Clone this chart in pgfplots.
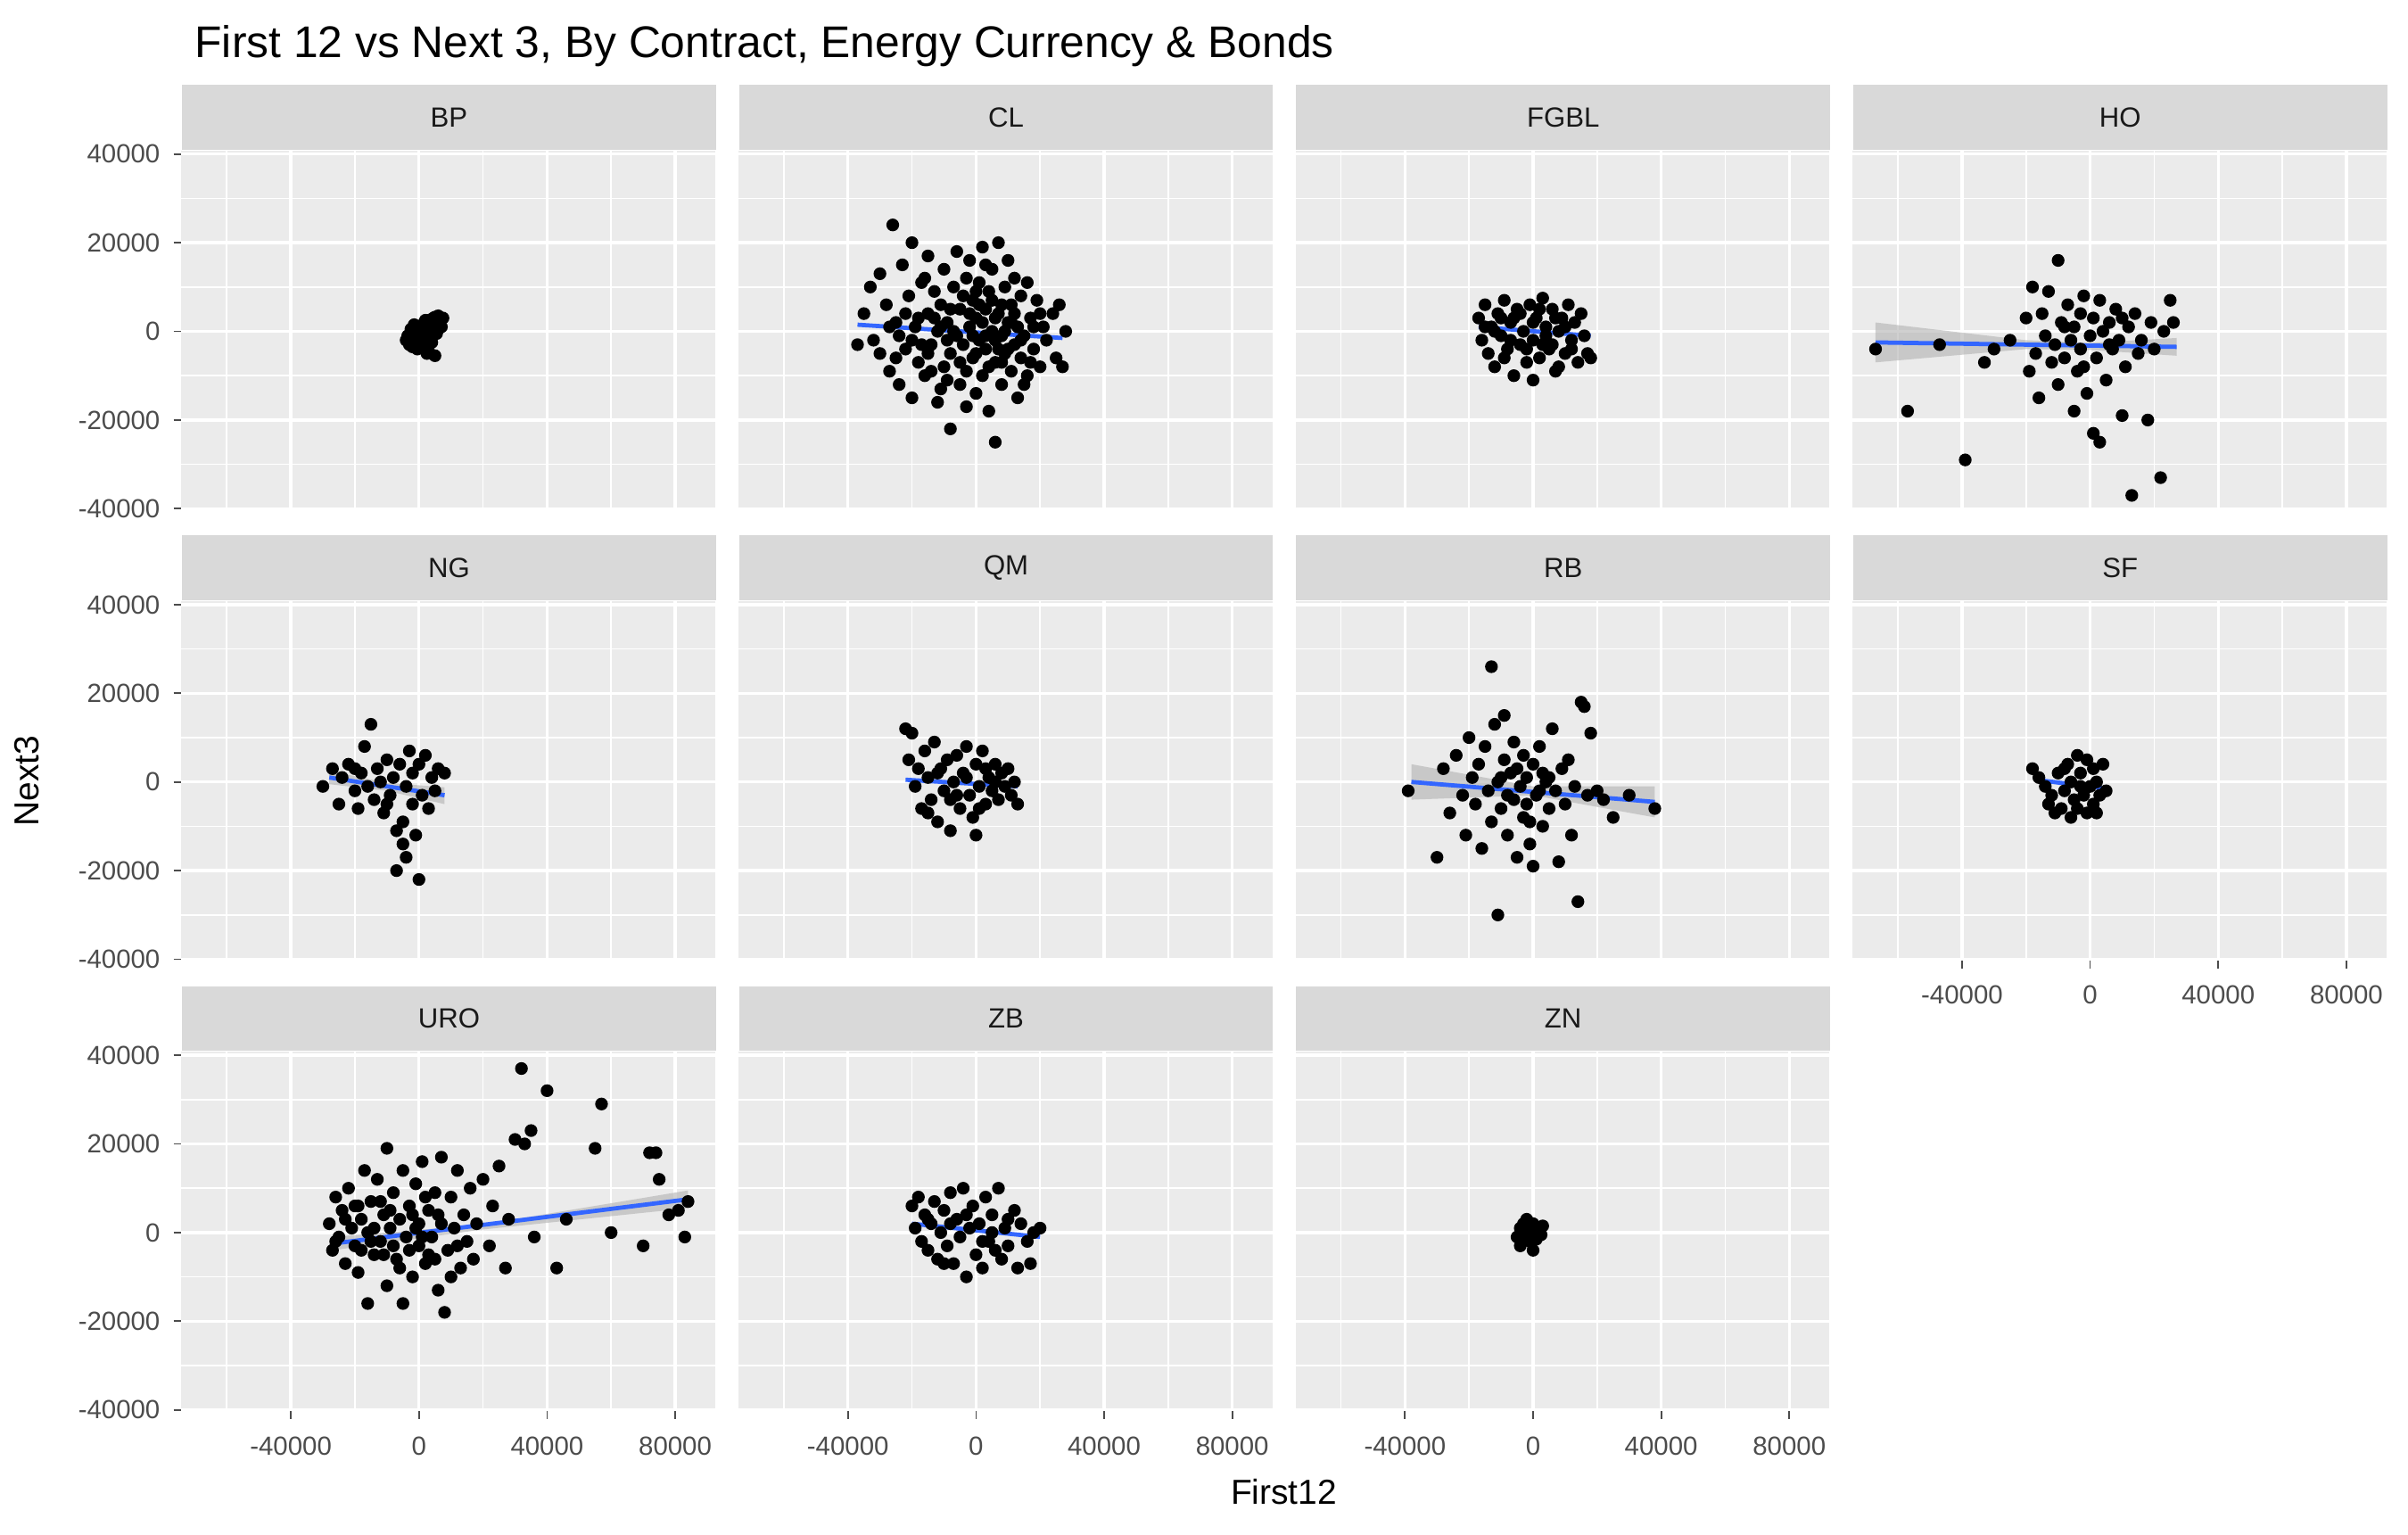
\documentclass[border=0pt]{standalone}
\usepackage{pgfplots}
\pgfplotsset{compat=1.18}
\usepgfplotslibrary{groupplots}
\usepackage{fontspec}
\setmainfont{Liberation Sans}
\definecolor{lineblue}{HTML}{3366FF}
\pgfplotsset{
 facet/.style={scale only axis,width=138.4pt,height=93.2pt,
  xmin=-74200,xmax=92500,ymin=-40300,ymax=40800,
  xtick={-40000,0,40000,80000},minor xtick={-60000,-20000,20000,60000},
  ytick={-40000,-20000,0,20000,40000},minor ytick={-30000,-10000,10000,30000},
  xtick pos=bottom,ytick pos=left,
  grid=both,major grid style={white,line width=0.8pt},minor grid style={white,line width=0.4pt},
  axis background/.style={fill=black!8},axis line style={draw=none},
  scaled ticks=false,/pgf/number format/1000 sep={},/pgf/number format/assume math mode=true,
  tick label style={font=\fontsize{6.8}{8}\selectfont,text=black!70},
  tick align=outside,major tick length=2pt,minor tick length=0pt,tick style={black!70,line width=0.4pt},
  xticklabel style={yshift=-1pt},
  clip=false},
 nox/.style={xticklabels={},xtick style={draw=none}},
 noy/.style={yticklabels={},ytick style={draw=none}},
 strip/.style={after end axis/.append code={\node[fill=black!15,anchor=south west,minimum width=138.4pt,minimum height=16.8pt,inner sep=0pt,text=black!90,font=\fontsize{7.2}{8}\selectfont] at (rel axis cs:0,1) {#1};}},
 pts/.style={only marks,mark=*,mark size=1.45pt,black},
 fit/.style={lineblue,line width=1.1pt},
 band/.style={fill=black!30,fill opacity=0.6,draw=none},
}
\begin{document}
\begin{tikzpicture}
\begin{groupplot}[group style={group size=4 by 3,horizontal sep=6pt,vertical sep=23.6pt},facet]
\nextgroupplot[strip=BP,nox]
\addplot[pts] coordinates {(-4000,-2000)(-3500,-1000)(-3000,-3000)(-2500,500)(-2000,-2500)(-1500,1500)(-1000,-1500)(-500,-4000)(0,-2000)(500,-500)(1000,-3500)(1500,1000)(2000,-1000)(2500,-5000)(3000,2500)(3500,0)(4000,-2500)(4500,3000)(5000,1500)(5500,-500)(6000,3500)(6500,2000)(7000,1000)(7500,3000)(-2000,-3500)(1000,500)(3000,-4500)(4000,2000)(5000,-5500)(2000,2500)(6000,500)(-1000,-300)(0,1200)(3500,-2000)(5000,3200)};
\addplot[fit] coordinates {(-3000,-2500)(7000,1500)};
\nextgroupplot[strip=CL,nox,noy]
\addplot[pts] coordinates {(-37000,-3000)(-35000,4000)(-33000,10000)(-32000,-2000)(-30000,13000)(-30000,-5000)(-28000,6000)(-27000,-9000)(-26000,24000)(-25000,2000)(-24000,-12000)(-23000,15000)(-22000,-4000)(-21000,8000)(-20000,20000)(-20000,-15000)(-19000,1000)(-18000,-7000)(-17000,11000)(-16000,-10000)(-15000,4000)(-15000,17000)(-14000,-3000)(-13000,9000)(-12000,-16000)(-12000,0)(-11000,6000)(-10000,-8000)(-10000,14000)(-9000,2000)(-8000,-22000)(-8000,-5000)(-7000,10000)(-6000,-1000)(-6000,18000)(-5000,-12000)(-5000,5000)(-4000,-3000)(-3000,12000)(-3000,-9000)(-2000,1000)(-2000,16000)(-1000,-6000)(-1000,7000)(0,-14000)(0,3000)(1000,-2000)(1000,11000)(2000,-10000)(2000,19000)(3000,5000)(3000,-4000)(4000,-18000)(4000,9000)(5000,0)(5000,14000)(6000,-7000)(6000,-25000)(7000,20000)(7000,4000)(8000,-12000)(8000,-1000)(9000,10000)(9000,-5000)(10000,2000)(10000,16000)(11000,-9000)(11000,6000)(12000,-3000)(12000,12000)(13000,-15000)(13000,1000)(14000,8000)(14000,-6000)(15000,-1000)(16000,11000)(16000,-10000)(17000,3000)(18000,-4000)(19000,7000)(20000,-8000)(21000,1000)(22000,-2000)(24000,4000)(25000,-6000)(26000,6000)(27000,-8000)(28000,0)(-25000,-6000)(-18000,3000)(-14000,-9000)(-9000,-11000)(-7000,0)(-4000,8000)(-1000,-1000)(2000,2000)(6000,-2000)(9000,0)(12000,4000)(15000,-12000)(-11000,-13000)(3000,15000)(-16000,12000)(8000,6000)(-3000,-17000)(0,9000)(17000,-7000)(-20000,-2000)(-27000,1000)(-24000,-1000)(-9000,-2000)(4000,-8000)(10000,-4000)(18000,1000)(-13000,3000)(0,-5000)(6000,3000)(-17000,-3000)(-11000,1000)(-5000,-7000)(-2000,4000)(3000,-1000)(5000,7000)(8000,-7000)(11000,2000)(14000,-2000)(20000,4000)(-22000,4000)(-8000,5000)(1000,6000)(7000,-4000)(-15000,-5000)};
\addplot[fit] coordinates {(-37000,1500)(27000,-1500)};
\nextgroupplot[strip=FGBL,nox,noy]
\addplot[pts] coordinates {(-17000,3000)(-16000,-2000)(-15000,6000)(-14000,-5000)(-13000,1000)(-12000,-8000)(-11000,4000)(-10000,-1000)(-9000,7000)(-8000,-4000)(-7000,2000)(-6000,-10000)(-5000,5000)(-4000,-3000)(-3000,0)(-2000,-7000)(-1000,6000)(0,-2000)(0,-11000)(1000,3000)(2000,-6000)(3000,7500)(4000,1000)(5000,-4000)(6000,5000)(7000,-9000)(8000,0)(9000,3000)(10000,-5000)(11000,6000)(12000,-2000)(13000,2000)(14000,-7000)(15000,4000)(16000,-1000)(17000,-5000)(18000,-6000)(-12000,0)(-6000,3000)(-2000,-4000)(4000,-1000)(8000,-8000)(10000,1000)(-9000,-6000)(-4000,4000)(2000,5000)(6000,-3000)(-15000,1000)(-10000,3000)(-7000,-2000)(0,2000)(3000,-3000)(7000,3000)(12000,-4000)};
\addplot[fit] coordinates {(-17000,1000)(18000,-1000)};
\nextgroupplot[strip=HO,nox,noy]
\addplot[band] coordinates {(-67000,2000)(-20000,-2000)(0,-2600)(27000,-1500)(27000,-5500)(0,-4200)(-20000,-4000)(-67000,-7000)} --cycle;
\addplot[pts] coordinates {(-67000,-4000)(-57000,-18000)(-47000,-3000)(-39000,-29000)(-33000,-7000)(-30000,-4000)(-25000,-2000)(-20000,3000)(-19000,-9000)(-18000,10000)(-17000,-5000)(-16000,-15000)(-15000,4000)(-14000,-1000)(-13000,9000)(-12000,-7000)(-11000,-3000)(-10000,16000)(-10000,-12000)(-9000,2000)(-8000,-6000)(-7000,6000)(-6000,-2000)(-5000,-18000)(-5000,1000)(-4000,-9000)(-3000,4000)(-3000,-4000)(-2000,8000)(-1000,-14000)(0,-1000)(1000,-23000)(1000,3000)(2000,-6000)(3000,-25000)(3000,7000)(4000,0)(5000,-11000)(6000,2000)(7000,-4000)(8000,5000)(9000,-2000)(10000,-19000)(10000,3000)(11000,-8000)(12000,1000)(13000,-37000)(14000,4000)(15000,-5000)(16000,-2000)(18000,-20000)(19000,2000)(20000,-4000)(22000,-33000)(23000,0)(25000,7000)(26000,2000)(-2000,-8000)(6000,-3000)(-8000,1000)};
\addplot[fit] coordinates {(-67000,-2500)(27000,-3500)};
\nextgroupplot[strip=NG,nox]
\addplot[band] coordinates {(-28000,2500)(-10000,-200)(8000,-1200)(8000,-5000)(-10000,-2000)(-28000,-500)} --cycle;
\addplot[pts] coordinates {(-30000,-1000)(-27000,3000)(-25000,-5000)(-24000,1000)(-22000,4000)(-20000,-2000)(-19000,-6000)(-18000,2000)(-17000,8000)(-16000,-1000)(-15000,13000)(-14000,-4000)(-13000,3000)(-12000,0)(-11000,-7000)(-10000,5000)(-9000,-3000)(-8000,1000)(-7000,-11000)(-7000,-20000)(-6000,4000)(-5000,-9000)(-5000,-14000)(-4000,-1000)(-4000,-17000)(-3000,7000)(-2000,-5000)(-2000,2000)(-1000,-12000)(0,4000)(0,-22000)(1000,-3000)(2000,6000)(3000,-6000)(4000,1000)(5000,-2000)(6000,3000)(8000,2000)(-20000,3000)(-10000,-5000)};
\addplot[fit] coordinates {(-28000,1000)(8000,-3000)};
\nextgroupplot[strip=QM,nox,noy]
\addplot[pts] coordinates {(-22000,12000)(-21000,5000)(-20000,11000)(-19000,-1000)(-18000,3000)(-17000,-6000)(-16000,7000)(-15000,1000)(-14000,-4000)(-13000,9000)(-12000,-9000)(-11000,3000)(-10000,-2000)(-9000,5000)(-8000,-11000)(-7000,0)(-6000,6000)(-5000,-6000)(-4000,2000)(-3000,8000)(-2000,-3000)(-1000,-8000)(0,4000)(0,-12000)(1000,-1000)(2000,7000)(3000,-5000)(4000,1000)(5000,-2000)(6000,4000)(7000,-4000)(8000,2000)(9000,-1000)(10000,3000)(11000,-3000)(12000,0)(13000,-5000)(-15000,-7000)(-6000,-3000)(3000,3000)(-12000,2000)(-8000,-4000)(-3000,1000)(1000,-6000)(6000,0)};
\addplot[fit] coordinates {(-22000,500)(13000,-1000)};
\nextgroupplot[strip=RB,nox,noy]
\addplot[band] coordinates {(-38000,4000)(0,-1000)(38000,-1000)(38000,-8000)(0,-3000)(-38000,-4000)} --cycle;
\addplot[pts] coordinates {(-39000,-2000)(-30000,-17000)(-28000,3000)(-26000,-7000)(-24000,6000)(-22000,-3000)(-21000,-12000)(-20000,10000)(-19000,1000)(-18000,-5000)(-17000,4000)(-16000,-15000)(-15000,8000)(-14000,-2000)(-13000,26000)(-13000,-9000)(-12000,13000)(-11000,0)(-11000,-30000)(-10000,-6000)(-9000,5000)(-9000,15000)(-8000,-12000)(-7000,2000)(-6000,-4000)(-6000,9000)(-5000,-17000)(-4000,-1000)(-3000,6000)(-3000,-8000)(-2000,1000)(-1000,-14000)(0,4000)(0,-19000)(1000,-3000)(2000,8000)(3000,-10000)(4000,0)(5000,-6000)(6000,12000)(7000,-2000)(8000,-18000)(9000,3000)(10000,-5000)(11000,5000)(12000,-12000)(13000,-1000)(14000,-27000)(15000,18000)(16000,17000)(17000,-3000)(18000,11000)(20000,-2000)(22000,-4000)(25000,-8000)(30000,-3000)(38000,-6000)(-2000,-5000)(3000,2000)(-8000,-3000)(-5000,3000)(-1000,-9000)(2000,-2000)(-10000,1000)(5000,1000)};
\addplot[fit] coordinates {(-38000,0)(38000,-4500)};
\nextgroupplot[strip=SF,noy]
\addplot[pts] coordinates {(-18000,3000)(-16000,1000)(-14000,-1000)(-13000,-5000)(-12000,-3000)(-11000,-7000)(-10000,2000)(-9000,-6000)(-8000,-2000)(-7000,4000)(-6000,-8000)(-6000,0)(-5000,-4000)(-4000,6000)(-4000,-6000)(-3000,2000)(-2000,-3000)(-1000,5000)(-1000,-7000)(0,-1000)(1000,3000)(1000,-5000)(2000,0)(3000,-3000)(4000,4000)(5000,-2000)(-8000,3000)(-3000,-1000)(2000,-7000)};
\addplot[fit] coordinates {(-17000,500)(5000,-1500)};
\nextgroupplot[strip=URO]
\addplot[band] coordinates {(-27000,-1000)(20000,1800)(84000,9500)(84000,5500)(20000,700)(-27000,-4000)} --cycle;
\addplot[pts] coordinates {(-28000,2000)(-27000,-4000)(-26000,8000)(-25000,-1000)(-24000,5000)(-23000,-7000)(-22000,10000)(-21000,1000)(-20000,-3000)(-20000,6000)(-19000,-9000)(-18000,3000)(-17000,14000)(-16000,-16000)(-16000,0)(-15000,7000)(-14000,-5000)(-13000,12000)(-12000,-2000)(-11000,4000)(-10000,19000)(-10000,-12000)(-9000,1000)(-8000,9000)(-7000,-6000)(-6000,3000)(-5000,-16000)(-5000,14000)(-4000,-1000)(-3000,6000)(-2000,-10000)(-1000,11000)(0,-3000)(0,2000)(1000,16000)(2000,-7000)(3000,5000)(4000,-1000)(5000,9000)(6000,-13000)(7000,17000)(7000,2000)(8000,-18000)(9000,-4000)(10000,8000)(11000,1000)(12000,14000)(13000,-8000)(14000,4000)(15000,-2000)(16000,10000)(17000,-6000)(18000,2000)(20000,12000)(22000,-3000)(23000,6000)(25000,15000)(27000,-8000)(28000,3000)(30000,21000)(32000,37000)(33000,20000)(35000,23000)(36000,-1000)(40000,32000)(43000,-8000)(46000,3000)(55000,19000)(57000,29000)(60000,0)(70000,-3000)(72000,18000)(74000,18000)(75000,12000)(78000,4000)(81000,5000)(83000,-1000)(84000,7000)(-12000,7000)(-6000,-8000)(3000,-5000)(-18000,-4000)(10000,-10000)(-2000,4000)(-23000,3000)(-14000,1000)(-8000,-3000)(1000,-1000)(6000,4000)(-26000,-2000)(-19000,6000)(-15000,-2000)(-9000,5000)(-3000,-4000)(2000,8000)(5000,-6000)(12000,-3000)(-11000,-5000)(-1000,1000)};
\addplot[fit] coordinates {(-27000,-2500)(84000,7500)};
\nextgroupplot[strip=ZB,noy]
\addplot[pts] coordinates {(-20000,6000)(-19000,1000)(-18000,8000)(-17000,-2000)(-16000,4000)(-15000,-4000)(-14000,2000)(-13000,7000)(-12000,-6000)(-11000,0)(-10000,5000)(-9000,-3000)(-8000,9000)(-7000,-7000)(-6000,3000)(-5000,-1000)(-4000,10000)(-3000,-10000)(-2000,1000)(-1000,6000)(0,-5000)(1000,2000)(2000,-8000)(3000,8000)(4000,-2000)(5000,4000)(6000,-4000)(7000,10000)(8000,-6000)(9000,1000)(10000,-3000)(12000,5000)(13000,-8000)(14000,2000)(16000,-2000)(17000,-7000)(18000,0)(20000,1000)(-10000,-7000)(5000,0)(-15000,3000)(-8000,2000)(-3000,4000)(2000,-2000)(10000,3000)};
\addplot[fit] coordinates {(-20000,2000)(20000,-1000)};
\nextgroupplot[strip=ZN,noy]
\addplot[pts] coordinates {(-5000,-1000)(-4000,1000)(-4000,-3000)(-3000,2000)(-3000,-1000)(-2000,0)(-2000,3000)(-1000,-2000)(-1000,1000)(0,-4000)(0,2000)(1000,0)(1000,-1500)(2000,1000)(2500,-500)(3000,1500)(-3500,0)(0,500)};
\addplot[fit] coordinates {(-4000,-500)(3000,500)};
\end{groupplot}
\node[anchor=base west,font=\fontsize{11.5}{13}\selectfont] at ([yshift=24pt]group c1r1.north west) {First 12 vs Next 3, By Contract, Energy Currency \& Bonds};
\node[rotate=90,font=\fontsize{9}{10}\selectfont] at ([xshift=-40pt]group c1r2.west) {Next3};
\node[font=\fontsize{9}{10}\selectfont] at ([xshift=3pt,yshift=-21pt]group c2r3.south east) {First12};
\path ([xshift=-47pt]group c1r2.west) -- ([xshift=5.6pt]group c4r1.east);
\path ([yshift=-32pt]group c1r3.south) -- ([yshift=39pt]group c1r1.north);
\end{tikzpicture}
\end{document}
